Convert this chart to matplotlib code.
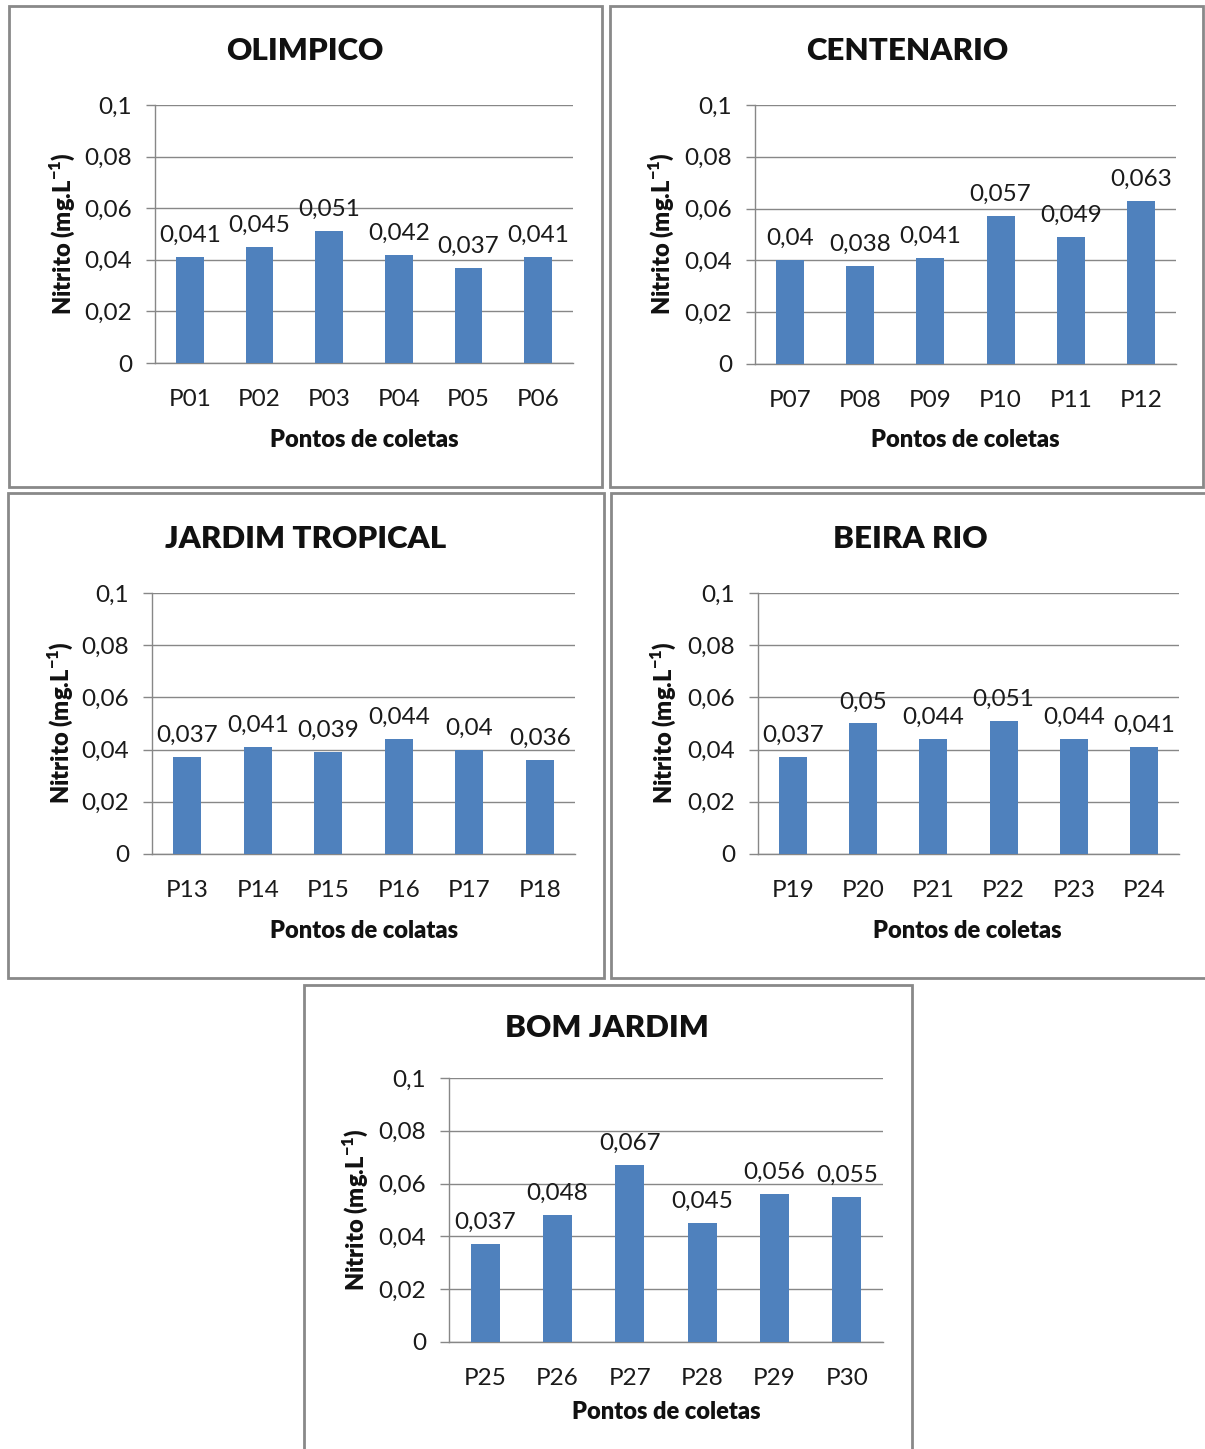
import matplotlib
matplotlib.use("Agg")
import matplotlib.pyplot as plt
from matplotlib.patches import Rectangle

plt.rcParams['font.family'] = ['Lato', 'DejaVu Sans']
plt.rcParams['mathtext.fontset'] = 'custom'
plt.rcParams['mathtext.rm'] = 'Lato'
plt.rcParams['mathtext.bf'] = 'Lato:heavy'

# ---- data ----
titles = ["OLIMPICO", "CENTENARIO", "JARDIM TROPICAL", "BEIRA RIO", "BOM JARDIM"]
xlabels = ["Pontos de coletas", "Pontos de coletas", "Pontos de colatas",
           "Pontos de coletas", "Pontos de coletas"]
cats_olimpico = ["P01", "P02", "P03", "P04", "P05", "P06"]
vals_olimpico = [0.041, 0.045, 0.051, 0.042, 0.037, 0.041]
cats_centenario = ["P07", "P08", "P09", "P10", "P11", "P12"]
vals_centenario = [0.04, 0.038, 0.041, 0.057, 0.049, 0.063]
cats_jardim_tropical = ["P13", "P14", "P15", "P16", "P17", "P18"]
vals_jardim_tropical = [0.037, 0.041, 0.039, 0.044, 0.04, 0.036]
cats_beira_rio = ["P19", "P20", "P21", "P22", "P23", "P24"]
vals_beira_rio = [0.037, 0.05, 0.044, 0.051, 0.044, 0.041]
cats_bom_jardim = ["P25", "P26", "P27", "P28", "P29", "P30"]
vals_bom_jardim = [0.037, 0.048, 0.067, 0.045, 0.056, 0.055]
yticks = [0, 0.02, 0.04, 0.06, 0.08, 0.1]
ytick_labels = ["0", "0,02", "0,04", "0,06", "0,08", "0,1"]
ylabel = r"Nitrito (mg.L$^{\mathbf{-1}}$)"

all_cats = [cats_olimpico, cats_centenario, cats_jardim_tropical, cats_beira_rio, cats_bom_jardim]
all_vals = [vals_olimpico, vals_centenario, vals_jardim_tropical, vals_beira_rio, vals_bom_jardim]

# ---- layout (pixels) ----
W, H = 1205, 1449
fig = plt.figure(figsize=(W / 100, H / 100), dpi=100)

# panel boxes: left, top, right, bottom
boxes = [(9, 6, 602, 487), (610, 6, 1203, 487), (8, 493, 604, 978),
         (611, 493, 1206, 978), (304, 985, 912, 1455)]
# plot areas: left, top, right, bottom
plots = [(155, 105, 573, 363), (755, 105, 1176, 364), (152, 593, 575, 854),
         (758, 593, 1179, 854), (449, 1078, 883, 1342)]
title_pos = [(305, 51), (907, 51), (306, 539), (910, 539), (607, 1028)]
xlab_pos = [(364, 440), (965, 440), (364, 931), (967, 931), (666, 1412)]
ylab_pos = [(62, 234), (661, 234), (60, 723), (663, 723), (355, 1210)]

def fx(px):
    return px / W

def fy(py):
    return 1 - py / H

BAR = "#4F81BD"
GRID = "#878787"
BORDER = "#898989"
TXT = "#1a1a1a"
BOLDW = 800

for (l, t, r, b) in boxes:
    fig.add_artist(Rectangle((fx(l), fy(b)), fx(r) - fx(l), fy(t) - fy(b),
                             transform=fig.transFigure, fill=False,
                             edgecolor=BORDER, linewidth=2.0, zorder=0))

for i in range(5):
    l, t, r, b = plots[i]
    ax = fig.add_axes([fx(l), fy(b), fx(r) - fx(l), fy(t) - fy(b)])
    cats = all_cats[i]
    vals = all_vals[i]
    x = list(range(len(cats)))
    bars = ax.bar(x, vals, width=0.4, color=BAR, zorder=3)
    labels = [f"{v:g}".replace(".", ",") for v in vals]
    ax.bar_label(bars, labels=labels, padding=8, fontsize=17.5, color=TXT)
    ax.set_xlim(-0.5, len(cats) - 0.5)
    ax.set_ylim(0, 0.1)
    ax.set_yticks(yticks)
    ax.set_yticklabels(ytick_labels)
    ax.set_xticks(x)
    ax.set_xticklabels(cats)
    ax.grid(axis="y", color=GRID, linewidth=1.0, zorder=0)
    ax.set_axisbelow(True)
    for s in ["top", "right"]:
        ax.spines[s].set_visible(False)
    for s in ["left", "bottom"]:
        ax.spines[s].set_color(GRID)
        ax.spines[s].set_linewidth(1.0)
    ax.tick_params(axis="y", direction="out", length=6.5, width=1.0, color=GRID,
                   pad=10, labelsize=17.5, labelcolor=TXT)
    ax.tick_params(axis="x", length=0, pad=19, labelsize=17.5, labelcolor=TXT)
    ax.patch.set_alpha(0)
    fig.text(fx(title_pos[i][0]), fy(title_pos[i][1]), titles[i], ha="center",
             va="center", fontsize=22.5, fontweight=BOLDW, color="#111111")
    fig.text(fx(xlab_pos[i][0]), fy(xlab_pos[i][1]), xlabels[i], ha="center",
             va="center", fontsize=17, fontweight=BOLDW, color="#111111")
    fig.text(fx(ylab_pos[i][0]), fy(ylab_pos[i][1]), ylabel, ha="center",
             va="center", rotation=90, fontsize=17, fontweight=BOLDW, color="#111111")

fig.savefig("out.png", dpi=100, facecolor="white")
